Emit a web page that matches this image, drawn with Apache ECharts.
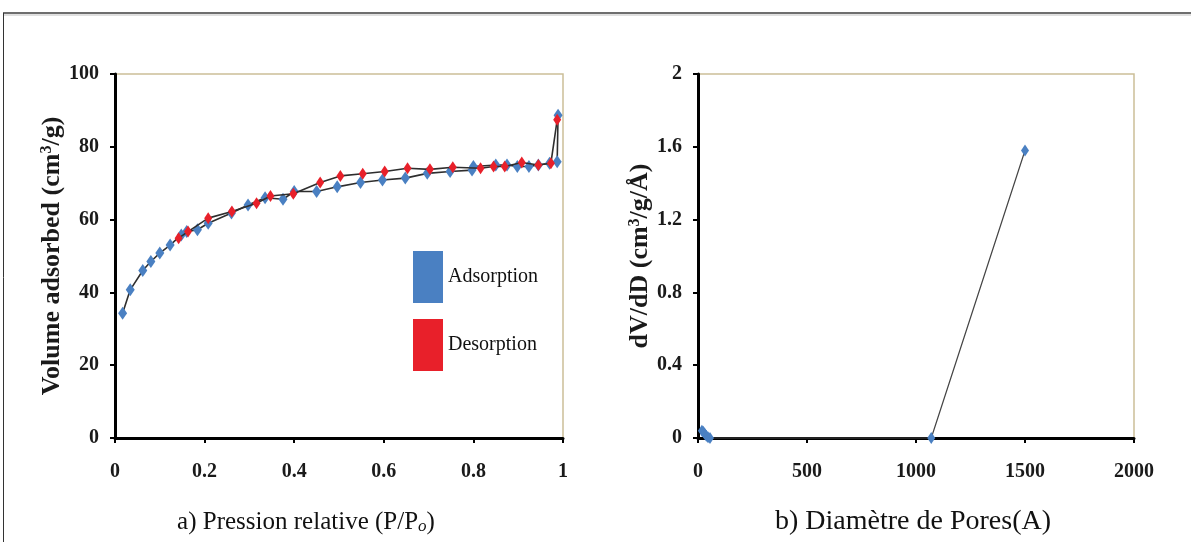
<!DOCTYPE html>
<html>
<head>
<meta charset="utf-8">
<script src="https://cdn.jsdelivr.net/npm/echarts@6/dist/echarts.min.js"></script>
<style>html,body{margin:0;padding:0;background:#fff}#c{width:1191px;height:542px}</style>
</head>
<body>
<div id="c"></div>
<script>
// Left chart: isotherm
const adsP = [0.017,0.034,0.062,0.08,0.10,0.123,0.148,0.16,0.184,0.208,0.26,0.297,0.335,0.375,0.40,0.45,0.496,0.548,0.597,0.648,0.697,0.748,0.797,0.80,0.85,0.875,0.898,0.924,0.945,0.97,0.987,0.989];
const adsV = [34.3,40.7,46.0,48.5,50.8,53,55.8,56.7,57.2,59,61.8,64,66,65.6,67.7,67.7,69,70.2,70.9,71.4,72.7,73.2,73.6,74.6,75,75,74.6,74.6,75,75.5,75.9,88.7];
const desP = [0.987,0.973,0.945,0.908,0.87,0.845,0.816,0.754,0.703,0.653,0.602,0.553,0.503,0.458,0.398,0.347,0.316,0.261,0.208,0.163,0.142];
const desV = [87.4,75.5,75,75.7,74.6,74.6,74.1,74.4,73.8,74.1,73.2,72.6,72,70.2,67.1,66.5,64.5,62.2,60.4,56.7,54.9];
// Right chart: pore size distribution
const poreD = [18,24,30,38,46,55,1070,1500];
const poreV = [0.04,0.035,0.025,0.012,0.004,0.0,0.0,1.58];

const xTicksA = ['0','0.2','0.4','0.6','0.8','1'];
const seriesNames = ['Adsorption','Desorption'];

const zip = (a,b)=>a.map((v,i)=>[v,b[i]]);
const BLUE = '#4a80c2', RED = '#e8202a';
const FONT = 'Liberation Serif';
const lblStyle = {fontFamily: FONT, fontWeight: 'bold', fontSize: 20, color: '#1a1a1a'};

const chart = echarts.init(document.getElementById('c'));
function axisCommon() {
  return {
    axisLine: {show: true, onZero: false, lineStyle: {color: '#000', width: 3}},
    axisTick: {show: true, inside: false, length: 5, lineStyle: {color: '#000', width: 2}},
    splitLine: {show: false}
  };
}
const nameStyle = {fontFamily: FONT, fontWeight: 'bold', fontSize: 26, color: '#1a1a1a',
  rich: {sup: {fontFamily: FONT, fontWeight: 'bold', fontSize: 16, verticalAlign: 'top', padding: [0,0,10,0], color: '#1a1a1a'}}};
chart.setOption({
  animation: false,
  grid: [
    {left: 115, top: 74, width: 448, height: 364, show: true, borderColor: '#cbbf98', borderWidth: 1.5, backgroundColor: 'transparent'},
    {left: 698, top: 74, width: 436, height: 364, show: true, borderColor: '#cbbf98', borderWidth: 1.5, backgroundColor: 'transparent'}
  ],
  xAxis: [
    Object.assign(axisCommon(), {type: 'value', gridIndex: 0, min: 0, max: 1, interval: 0.2,
      axisLabel: Object.assign({margin: 24, formatter: v => xTicksA[Math.round(v/0.2)]}, lblStyle)}),
    Object.assign(axisCommon(), {type: 'value', gridIndex: 1, min: 0, max: 2000, interval: 500,
      axisLabel: Object.assign({margin: 24, formatter: v => String(v)}, lblStyle)})
  ],
  yAxis: [
    Object.assign(axisCommon(), {type: 'value', gridIndex: 0, min: 0, max: 100, interval: 20,
      axisLabel: Object.assign({margin: 16}, lblStyle),
      name: 'Volume adsorbed (cm{sup|3}/g)', nameLocation: 'middle', nameGap: 42, nameRotate: 90,
      nameTextStyle: nameStyle}),
    Object.assign(axisCommon(), {type: 'value', gridIndex: 1, min: 0, max: 2, interval: 0.4,
      axisLabel: Object.assign({margin: 16, formatter: v => (v === 0 || v === 2) ? String(v) : v.toFixed(1)}, lblStyle),
      name: 'dV/dD (cm{sup|3}/g/Å)', nameLocation: 'middle', nameGap: 40, nameRotate: 90,
      nameTextStyle: nameStyle})
  ],
  legend: {
    left: 408, top: 246, orient: 'vertical', itemWidth: 30, itemHeight: 52, itemGap: 16,
    data: [{name: seriesNames[0], icon: 'rect', itemStyle: {color: BLUE}}, {name: seriesNames[1], icon: 'rect', itemStyle: {color: RED}}],
    textStyle: {fontFamily: FONT, fontSize: 20, color: '#111'},
    selectedMode: false
  },
  series: [
    {name: seriesNames[0], type: 'line', xAxisIndex: 0, yAxisIndex: 0, data: zip(adsP, adsV),
      symbol: 'diamond', symbolSize: [9, 13], itemStyle: {color: BLUE}, lineStyle: {color: '#2e2e2e', width: 1.6}, z: 3, clip: false},
    {name: seriesNames[1], type: 'line', xAxisIndex: 0, yAxisIndex: 0, data: zip(desP, desV),
      symbol: 'diamond', symbolSize: [8, 12], itemStyle: {color: RED}, lineStyle: {color: '#2e2e2e', width: 1.6}, z: 4, clip: false},
    {name: 'PSD', type: 'line', xAxisIndex: 1, yAxisIndex: 1, data: zip(poreD, poreV),
      symbol: 'diamond', symbolSize: [8, 12], itemStyle: {color: BLUE}, lineStyle: {color: '#444', width: 1.2}, z: 3, clip: false}
  ],
  graphic: [
    {type: 'line', shape: {x1: 3, y1: 13, x2: 1191, y2: 13}, style: {stroke: '#6e6e6e', lineWidth: 2}},
    {type: 'line', shape: {x1: 3, y1: 15, x2: 1191, y2: 15}, style: {stroke: '#c0c0c0', lineWidth: 1}},
    {type: 'line', shape: {x1: 3.5, y1: 13, x2: 3.5, y2: 542}, style: {stroke: '#333', lineWidth: 1}},
    {type: 'text', x: 306, y: 522, style: {
      text: 'a) Pression relative (P/P{sub|o})', font: '25px "Liberation Serif"', fill: '#111', align: 'center', verticalAlign: 'middle',
      rich: {sub: {fontFamily: FONT, fontStyle: 'italic', fontSize: 17, verticalAlign: 'bottom', padding: [10,0,0,0], fill: '#111'}}}},
    {type: 'text', x: 913, y: 522, style: {text: 'b) Diamètre de Pores(A)', font: '28px "Liberation Serif"', fill: '#111', align: 'center', verticalAlign: 'middle'}}
  ]
});
</script>
</body>
</html>
